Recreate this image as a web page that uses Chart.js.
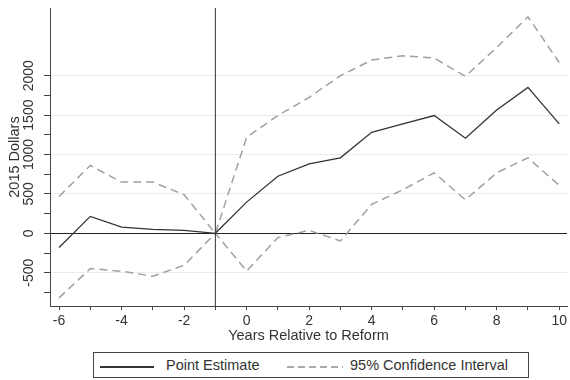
<!DOCTYPE html>
<html lang="en">
<head>
    <meta charset="UTF-8">
    <title>Event Study</title>
    <script src="https://cdn.jsdelivr.net/npm/chart.js"></script>
    <style>
        body { margin: 0; background: #fff; }
        .wrap { position: relative; width: 570px; height: 380px; }
        #chart { position: absolute; left: 0; top: 0; }
        .legend {
            position: absolute; left: 93px; top: 352px; width: 436px; height: 26px;
            border: 1px solid #444; box-sizing: border-box;
            font: 14.5px "Liberation Sans", Arial, sans-serif; color: #333;
        }
        .legend span { position: absolute; top: 4px; }
        .legend i { position: absolute; top: 13px; height: 1.5px; }
        .legend .solid { background: #333; }
        .legend .dash { background: repeating-linear-gradient(to right, #aaa 0 7px, transparent 7px 11px); }
    </style>
</head>
<body>
    <div class="wrap">
        <canvas id="chart" width="570" height="345"></canvas>
        <div class="legend">
            <i class="solid" style="left:6px;width:54px"></i>
            <span style="left:72px">Point Estimate</span>
            <i class="dash" style="left:193px;width:56px"></i>
            <span style="left:256px">95% Confidence Interval</span>
        </div>
    </div>

    <script>
        const years = [-6, -5, -4, -3, -2, -1, 0, 1, 2, 3, 4, 5, 6, 7, 8, 9, 10];
        const pointEstimate = [-180, 215, 80, 50, 38, 0, 396, 725, 882, 958, 1282, 1388, 1494, 1207, 1565, 1852, 1388];
        const upperCI = [468, 861, 650, 650, 490, 0, 1219, 1494, 1725, 2000, 2198, 2253, 2224, 1991, 2358, 2747, 2168];
        const lowerCI = [-819, -447, -481, -544, -405, 0, -477, -54, 38, -97, 367, 553, 768, 426, 768, 958, 608];
        const reformYear = -1;

        // tick marks at every value, labels only on the labelled ones
        const xTicks = [-6, -5, -4, -3, -2, -1, 0, 1, 2, 3, 4, 5, 6, 7, 8, 9, 10];
        const xTickLabels = [-6, -4, -2, 0, 2, 4, 6, 8, 10];
        const yTicks = [-750, -500, -250, 0, 250, 500, 750, 1000, 1250, 1500, 1750, 2000];
        const yTickLabels = [-500, 0, 500, 1000, 1500, 2000];

        const toPoints = vals => years.map((x, i) => ({ x: x, y: vals[i] }));
        const tickFont = { family: '"Liberation Sans", Arial, sans-serif', size: 14 };
        const titleFont = { family: '"Liberation Sans", Arial, sans-serif', size: 14.5 };

        // vertical line at the reform year
        const reformLine = {
            id: 'reformLine',
            afterDatasetsDraw(chart) {
                const ctx = chart.ctx;
                const x = chart.scales.x.getPixelForValue(reformYear);
                ctx.save();
                ctx.strokeStyle = '#333';
                ctx.lineWidth = 1;
                ctx.beginPath();
                ctx.moveTo(x, chart.chartArea.top);
                ctx.lineTo(x, chart.chartArea.bottom);
                ctx.stroke();
                ctx.restore();
            }
        };

        new Chart(document.getElementById('chart'), {
            type: 'line',
            data: {
                datasets: [{
                    label: 'Point Estimate',
                    data: toPoints(pointEstimate),
                    borderColor: '#333',
                    borderWidth: 1.3,
                    pointRadius: 0,
                    tension: 0
                }, {
                    label: '95% Confidence Interval',
                    data: toPoints(upperCI),
                    borderColor: '#a0a0a0',
                    borderWidth: 1.5,
                    borderDash: [8, 5],
                    pointRadius: 0,
                    tension: 0
                }, {
                    label: '95% Confidence Interval (lower)',
                    data: toPoints(lowerCI),
                    borderColor: '#a0a0a0',
                    borderWidth: 1.5,
                    borderDash: [8, 5],
                    pointRadius: 0,
                    tension: 0
                }]
            },
            options: {
                responsive: false,
                animation: false,
                layout: { padding: { top: 8, right: 0, left: 0, bottom: 0 } },
                plugins: { legend: { display: false }, tooltip: { enabled: false } },
                scales: {
                    x: {
                        type: 'linear',
                        min: -6.29,
                        max: 10.25,
                        afterFit: scale => { scale.height = 39; },
                        afterBuildTicks: scale => { scale.ticks = xTicks.map(v => ({ value: v })); },
                        border: { color: '#444', width: 1 },
                        grid: { drawOnChartArea: false, tickLength: 4, color: '#444' },
                        ticks: {
                            autoSkip: false,
                            maxRotation: 0,
                            padding: 3,
                            color: '#333',
                            font: tickFont,
                            callback: v => (xTickLabels.includes(v) ? String(v) : '')
                        },
                        title: { display: true, text: 'Years Relative to Reform', color: '#333', font: titleFont, padding: 0 }
                    },
                    y: {
                        min: -922,
                        max: 2859,
                        afterFit: scale => { scale.width = 50; },
                        afterBuildTicks: scale => { scale.ticks = yTicks.map(v => ({ value: v })); },
                        border: { color: '#444', width: 1 },
                        grid: {
                            tickLength: 6,
                            tickColor: '#444',
                            color: c => (c.tick && c.tick.value === 0) ? '#222'
                                : ((c.tick && yTickLabels.includes(c.tick.value)) ? '#e4eeee' : 'rgba(0,0,0,0)'),
                            lineWidth: 1
                        },
                        ticks: {
                            autoSkip: false,
                            minRotation: 90,
                            maxRotation: 90,
                            crossAlign: 'center',
                            padding: -1,
                            color: '#333',
                            font: tickFont,
                            callback: v => (yTickLabels.includes(v) ? String(v) : '')
                        },
                        title: { display: true, text: '2015 Dollars', color: '#333', font: titleFont, padding: { top: 6, bottom: 0 } }
                    }
                }
            },
            plugins: [reformLine]
        });
    </script>
</body>
</html>
